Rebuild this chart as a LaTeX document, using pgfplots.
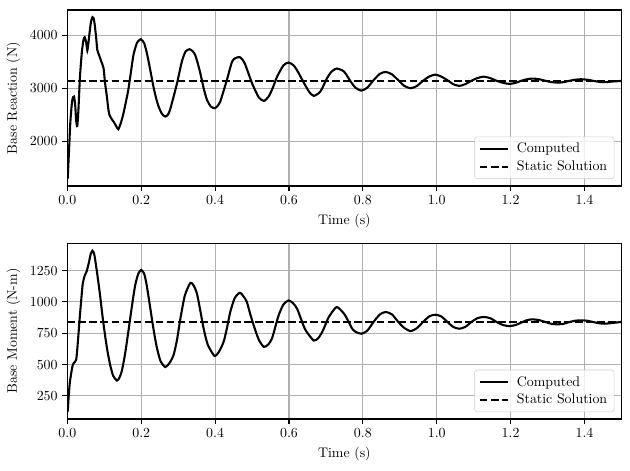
\documentclass[border=0pt]{standalone}
\usepackage{pgfplots}
\pgfplotsset{compat=1.18}

\pgfplotsset{
  respstyle/.style={
    scale only axis,
    width=398.9pt, height=126.7pt,
    anchor=south west,
    xmin=0, xmax=1.5,
    xtick={0,0.2,...,1.4},
    xticklabel style={/pgf/number format/.cd, fixed, fixed zerofill, precision=1},
    yticklabel style={/pgf/number format/1000 sep={}},
    xlabel={Time (s)},
    grid=major,
    major grid style={color=black!31, line width=0.8pt},
    axis line style={line width=0.8pt},
    tick style={black, line width=0.8pt},
    major tick length=3.5pt,
    tick align=outside,
    xtick pos=left, ytick pos=left,
    legend cell align=left,
    legend image code/.code={\draw[##1] (0pt,0pt) -- (20pt,0pt);},
    legend style={at={(1,0)}, xshift=-5pt, yshift=5pt, anchor=south east,
      draw=black!20, rounded corners=2pt, fill=white, fill opacity=0.8,
      text opacity=1, inner xsep=3pt, inner ysep=2.5pt, row sep=0pt,
      column sep=4pt},
  },
  comp/.style={black, line width=1.5pt, smooth, tension=0.4},
  stat/.style={black, line width=1.5pt, dash pattern=on 5.55pt off 2.4pt},
}

\begin{document}
\begin{tikzpicture}
\useasboundingbox (0,0) rectangle (453.6pt,338.4pt);

% base reaction
\begin{axis}[respstyle, at={(48.5pt,204.5pt)},
  ymin=1160, ymax=4472, ytick={2000,3000,4000},
  ylabel={Base Reaction (N)}]
\addplot[comp] coordinates {
(0.001,1300) (0.004,1750) (0.008,2350) (0.012,2700) (0.0145,2812) (0.018,2843)
(0.021,2700) (0.024,2380) (0.027,2291) (0.030,2600) (0.034,3200) (0.039,3659)
(0.0434,3900) (0.047,3960) (0.051,3860) (0.054,3709) (0.057,3850) (0.060,4036)
(0.064,4250) (0.068,4337) (0.071,4320) (0.074,4200) (0.078,3950) (0.081,3722)
(0.086,3620) (0.092,3500) (0.098,3377) (0.102,3100) (0.107,2843) (0.111,2600)
(0.114,2498) (0.120,2420) (0.125,2372) (0.132,2290) (0.138,2228) (0.145,2350)
(0.152,2529) (0.159,2760) (0.165,2969) (0.172,3300) (0.179,3628) (0.188,3847)
(0.194,3900) (0.199,3923) (0.204,3890) (0.208,3847) (0.214,3700) (0.220,3502)
(0.227,3250) (0.233,3031) (0.240,2820) (0.247,2655) (0.256,2520) (0.265,2466)
(0.272,2500) (0.278,2592) (0.288,2850) (0.297,3094) (0.310,3502) (0.320,3690)
(0.331,3734) (0.340,3690) (0.346,3628) (0.353,3470) (0.360,3282) (0.369,3000)
(0.378,2780) (0.388,2660) (0.398,2623) (0.406,2660) (0.414,2749) (0.423,2950)
(0.432,3157) (0.446,3502) (0.456,3570) (0.467,3584) (0.475,3530) (0.482,3439)
(0.500,3094) (0.518,2830) (0.532,2761) (0.545,2843) (0.557,3020) (0.568,3220)
(0.585,3430) (0.599,3483) (0.613,3427) (0.625,3300) (0.636,3157) (0.654,2937)
(0.667,2856) (0.685,2937) (0.703,3188) (0.715,3310) (0.729,3370) (0.749,3314)
(0.767,3126) (0.780,3010) (0.796,2955) (0.812,3010) (0.829,3150) (0.846,3270)
(0.862,3307) (0.879,3260) (0.896,3150) (0.913,3040) (0.930,3000) (0.946,3040)
(0.963,3140) (0.980,3220) (0.996,3256) (1.012,3220) (1.029,3150) (1.045,3075)
(1.061,3043) (1.077,3075) (1.094,3140) (1.110,3190) (1.127,3218) (1.145,3190)
(1.162,3140) (1.180,3100) (1.197,3081) (1.213,3100) (1.229,3140) (1.245,3170)
(1.260,3181) (1.277,3170) (1.294,3140) (1.311,3115) (1.328,3105) (1.344,3115)
(1.360,3140) (1.375,3160) (1.391,3169) (1.407,3160) (1.423,3140) (1.439,3120)
(1.455,3113) (1.475,3125) (1.500,3137)};
\addlegendentry{Computed}
\addplot[stat] coordinates {(0,3142) (1.5,3142)};
\addlegendentry{Static Solution}
\end{axis}

% base moment
\begin{axis}[respstyle, at={(48.5pt,36.7pt)},
  ymin=65, ymax=1470, ytick={250,500,750,1000,1250},
  ylabel={Base Moment (N-m)}]
\addplot[comp] coordinates {
(0.001,125) (0.004,260) (0.007,364) (0.0145,496) (0.021,523) (0.024,540)
(0.027,628) (0.030,740) (0.034,893) (0.038,1030) (0.0416,1144) (0.047,1210)
(0.052,1242) (0.058,1310) (0.063,1380) (0.068,1409) (0.072,1390) (0.075,1343)
(0.082,1200) (0.0886,1052) (0.095,890) (0.102,734) (0.109,600) (0.116,496)
(0.124,410) (0.134,372) (0.140,390) (0.147,443) (0.156,580) (0.165,761)
(0.175,970) (0.1835,1131) (0.192,1225) (0.200,1255) (0.208,1225) (0.215,1131)
(0.224,960) (0.233,787) (0.242,640) (0.252,530) (0.265,480) (0.276,510)
(0.2875,575) (0.297,700) (0.306,866) (0.318,1050) (0.333,1152) (0.342,1130)
(0.351,1065) (0.360,930) (0.369,787) (0.380,660) (0.398,570) (0.410,600)
(0.423,681) (0.432,790) (0.441,919) (0.453,1030) (0.467,1073) (0.478,1040)
(0.486,999) (0.4945,910) (0.5045,813) (0.518,700) (0.532,641) (0.544,660)
(0.554,708) (0.563,800) (0.572,893) (0.585,980) (0.599,1012) (0.611,990)
(0.622,946) (0.633,860) (0.645,774) (0.667,692) (0.679,710) (0.690,760)
(0.699,820) (0.708,880) (0.729,959) (0.749,906) (0.760,850) (0.771,787)
(0.781,760) (0.796,746) (0.812,770) (0.829,840) (0.846,900) (0.862,920)
(0.879,900) (0.896,840) (0.913,790) (0.930,767) (0.946,790) (0.963,840)
(0.980,885) (0.996,898) (1.012,885) (1.029,840) (1.045,800) (1.061,786)
(1.077,800) (1.094,840) (1.110,870) (1.127,880) (1.145,870) (1.162,840)
(1.180,815) (1.197,807) (1.213,815) (1.229,835) (1.245,855) (1.260,861)
(1.277,855) (1.294,840) (1.311,825) (1.328,821) (1.344,826) (1.360,840)
(1.375,850) (1.391,853) (1.407,850) (1.423,840) (1.439,830) (1.455,826)
(1.475,832) (1.500,840)};
\addlegendentry{Computed}
\addplot[stat] coordinates {(0,838) (1.5,838)};
\addlegendentry{Static Solution}
\end{axis}
\end{tikzpicture}
\end{document}
